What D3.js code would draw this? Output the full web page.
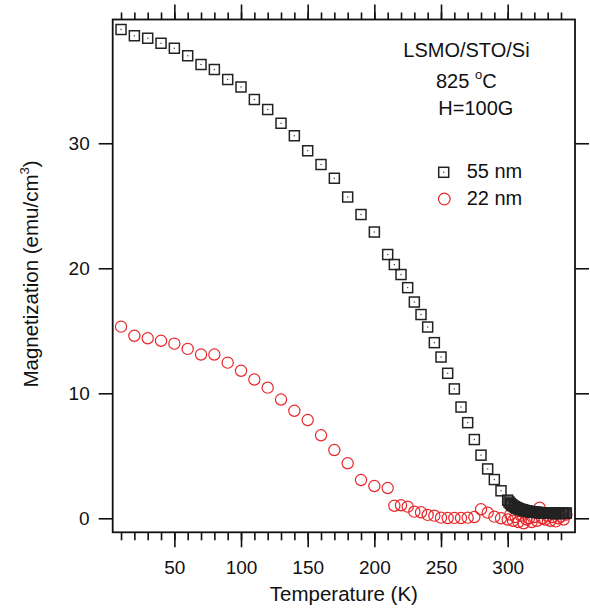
<!DOCTYPE html>
<html>
<head>
<meta charset="utf-8">
<script src="https://cdn.jsdelivr.net/npm/d3@7"></script>
<style>
  html, body { margin: 0; padding: 0; background: #fff; }
  svg { display: block; font-family: "Liberation Sans", Arial, sans-serif; }
</style>
</head>
<body>
<svg id="chart" width="590" height="609"></svg>
<script>
// ---------- data ----------
const temp55 = [10,20,30,40,50,60,70,80,90,100,110,120,130,140,150,160,170,180,190,200,210,
  215,220,225,230,235,240,245,250,255,260,265,270,275,280,285,290,295,300,
  301,302,303,304,305,306,307,308,309,310,311,312,313,314,315,316,317,318,319,320,
  321,322,323,324,325,326,327,328,329,330,331,332,333,334,335,336,337,338,339,340,
  341,342,343,344];
const mag55 = [39.1,38.6,38.4,38.0,37.6,37.0,36.3,35.9,35.1,34.5,33.5,32.7,31.6,30.6,29.4,28.3,27.2,25.7,24.3,22.9,21.1,
  20.3,19.5,18.45,17.3,16.3,15.3,14.05,12.9,11.6,10.35,8.9,7.65,6.3,5.05,3.95,3.1,2.2,1.45,
  1.30,1.18,1.08,1.00,0.93,0.87,0.82,0.77,0.73,0.70,0.67,0.64,0.61,0.59,0.57,0.55,0.53,0.52,0.50,0.49,
  0.48,0.47,0.46,0.45,0.44,0.44,0.43,0.42,0.42,0.41,0.41,0.40,0.40,0.40,0.39,0.39,0.39,0.39,0.39,0.40,
  0.40,0.41,0.41,0.42];

const temp22 = [10,20,30,40,50,60,70,80,90,100,110,120,130,140,150,160,170,180,190,200,210,
  215,220,225,230,235,240,245,250,255,260,265,270,275,280,285,290,295,
  300,302,304,306,308,310,312,314,316,318,320,322,324,326,328,330,332,334,336,338,340,342,344];
const mag22 = [15.33,14.6,14.4,14.2,13.97,13.55,13.1,13.1,12.45,11.8,11.1,10.45,9.5,8.6,7.86,6.64,5.46,4.4,3.06,2.58,2.42,
  1.0,1.04,0.93,0.53,0.48,0.27,0.21,0.05,0.02,0.03,0.02,0.05,0.1,0.72,0.45,0.13,0.0,
  -0.1,0.3,-0.2,0.1,-0.3,0.2,-0.4,-0.1,0.0,-0.3,0.1,-0.2,0.85,0.0,-0.1,0.2,-0.2,0.1,-0.25,0.0,0.15,-0.1,0.3];

const xMajorTicks = [50,100,150,200,250,300];
const xMinorTicks = d3.range(10, 341, 10);
const yTicks = [0,10,20,30];
const seriesNames = ["55 nm", "22 nm"];
const annotation = ["LSMO/STO/Si", "825 ", "o", "C", "H=100G"];

// ---------- layout ----------
const svg = d3.select("#chart");
const L = 112.7, R = 575, T = 19.5, B = 532.3;
const x = d3.scaleLinear().domain([3.75, 350.5]).range([L, R]);
const y = d3.scaleLinear().domain([-1.12, 39.9]).range([B, T]);
const red = "#e8262a", blk = "#222";

function styleAxis(g, fs) {
  g.select(".domain").remove();
  g.selectAll(".tick line").attr("stroke", "#111").attr("stroke-width", 1.6);
  g.selectAll(".tick text").attr("fill", "#111").attr("font-size", fs)
    .attr("font-family", '"Liberation Sans", Arial, sans-serif');
}

// bottom
svg.append("g").attr("transform", `translate(0,${B})`)
  .call(d3.axisBottom(x).tickValues(xMinorTicks).tickSize(8).tickFormat(""))
  .call(g => styleAxis(g, 19));
svg.append("g").attr("transform", `translate(0,${B})`)
  .call(d3.axisBottom(x).tickValues(xMajorTicks).tickSize(15).tickPadding(13).tickFormat(d3.format("d")))
  .call(g => styleAxis(g, 19));
// top
svg.append("g").attr("transform", `translate(0,${T})`)
  .call(d3.axisTop(x).tickValues(xMinorTicks).tickSize(7).tickFormat(""))
  .call(g => styleAxis(g, 19));
svg.append("g").attr("transform", `translate(0,${T})`)
  .call(d3.axisTop(x).tickValues(xMajorTicks).tickSize(15).tickFormat(""))
  .call(g => styleAxis(g, 19));
// left
svg.append("g").attr("transform", `translate(${L},0)`)
  .call(d3.axisLeft(y).tickValues(yTicks).tickSize(14).tickPadding(9).tickFormat(d3.format("d")))
  .call(g => styleAxis(g, 19));
// right
svg.append("g").attr("transform", `translate(${R},0)`)
  .call(d3.axisRight(y).tickValues(yTicks).tickSize(14).tickFormat(""))
  .call(g => styleAxis(g, 19));

// frame
svg.append("rect").attr("x", L).attr("y", T).attr("width", R - L).attr("height", B - T)
  .attr("fill", "none").attr("stroke", "#111").attr("stroke-width", 1.8);

// axis titles
svg.append("text").attr("x", (L + R) / 2).attr("y", 600.5).attr("text-anchor", "middle")
  .attr("font-size", 20.5).attr("fill", "#111").text("Temperature (K)");
const yt = svg.append("text").attr("transform", "translate(37.5,274) rotate(-90)")
  .attr("text-anchor", "middle").attr("font-size", 20.5).attr("fill", "#111");
yt.append("tspan").text("Magnetization (emu/cm");
yt.append("tspan").attr("font-size", 13).attr("dy", -9).text("3");
yt.append("tspan").attr("dy", 9).text(")");

// ---------- data marks ----------
const d22 = temp22.map((t, i) => ({ t, m: mag22[i] }));
const d55 = temp55.map((t, i) => ({ t, m: mag55[i] }));

svg.append("g").selectAll("circle").data(d22).join("circle")
  .attr("cx", d => x(d.t)).attr("cy", d => y(d.m)).attr("r", 5.6)
  .attr("fill", "none").attr("stroke", red).attr("stroke-width", 1.2);

const sq = svg.append("g").selectAll("g").data(d55).join("g")
  .attr("transform", d => `translate(${x(d.t)},${y(d.m)})`);
sq.append("rect").attr("x", -5).attr("y", -5).attr("width", 10).attr("height", 10)
  .attr("fill", "none").attr("stroke", blk).attr("stroke-width", 1.5);
sq.append("rect").attr("x", -0.6).attr("y", -0.6).attr("width", 1.2).attr("height", 1.2)
  .attr("fill", "#333");

// ---------- annotation ----------
const ann = svg.append("g").attr("font-size", 20).attr("fill", "#111");
ann.append("text").attr("x", 403.3).attr("y", 56.7).text(annotation[0]);
const t2 = ann.append("text").attr("x", 436).attr("y", 88.3);
t2.append("tspan").text(annotation[1]);
t2.append("tspan").attr("font-size", 13).attr("dy", -9).text(annotation[2]);
t2.append("tspan").attr("dy", 9).text(annotation[3]);
ann.append("text").attr("x", 438.3).attr("y", 115).text(annotation[4]);

// legend
const lg = svg.append("g").attr("font-size", 20).attr("fill", "#111");
lg.append("rect").attr("x", 443.7 - 5).attr("y", 172.3 - 5).attr("width", 10).attr("height", 10)
  .attr("fill", "none").attr("stroke", blk).attr("stroke-width", 1.5);
lg.append("rect").attr("x", 443.1).attr("y", 171.7).attr("width", 1.2).attr("height", 1.2).attr("fill", "#333");
lg.append("text").attr("x", 466.7).attr("y", 178.3).text(seriesNames[0]);
lg.append("circle").attr("cx", 444.3).attr("cy", 199).attr("r", 5.8)
  .attr("fill", "none").attr("stroke", red).attr("stroke-width", 1.2);
lg.append("text").attr("x", 466.7).attr("y", 204.5).text(seriesNames[1]);
</script>
</body>
</html>
